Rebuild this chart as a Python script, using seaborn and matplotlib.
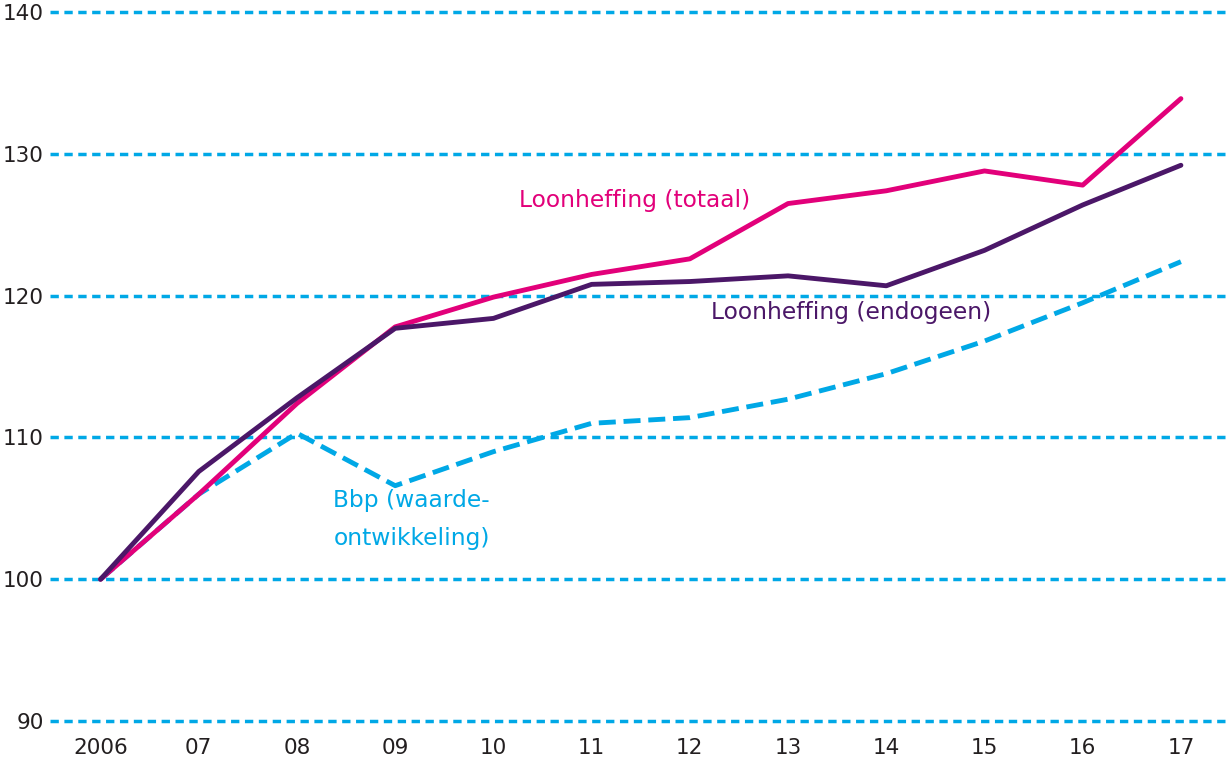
import matplotlib
matplotlib.use("Agg")
import matplotlib.pyplot as plt
import seaborn
import pandas

years = list(range(2006, 2018))
year_labels = ["2006", "07", "08", "09", "10", "11", "12", "13", "14", "15", "16", "17"]
totaal = [100, 106.0, 112.4, 117.8, 119.9, 121.5, 122.6, 126.5, 127.4, 128.8, 127.8, 133.9]
endogeen = [100, 107.6, 112.8, 117.7, 118.4, 120.8, 121.0, 121.4, 120.7, 123.2, 126.4, 129.2]
bbp = [100, 106.0, 110.3, 106.6, 109.0, 111.0, 111.4, 112.7, 114.5, 116.8, 119.5, 122.4]

PINK = "#E2007A"
PURPLE = "#4B1768"
CYAN = "#00A8E6"

seaborn.set_style("white")
plt.rcParams["font.family"] = ["DejaVu Sans"]

df = pandas.DataFrame({"jaar": years, "totaal": totaal, "endogeen": endogeen, "bbp": bbp})

fig = plt.figure(figsize=(12.31, 7.59), dpi=100)
ax = fig.add_axes([0.041, 0.05, 0.959, 0.934])

for y in range(90, 141, 10):
    ax.axhline(y, color=CYAN, lw=2.5, ls=(0, (2.4, 1.6)), zorder=0, clip_on=False)

seaborn.lineplot(data=df, x="jaar", y="bbp", ax=ax, color=CYAN, lw=3.5, linestyle=(0, (3.5, 1.6)))
seaborn.lineplot(data=df, x="jaar", y="totaal", ax=ax, color=PINK, lw=3.5)
seaborn.lineplot(data=df, x="jaar", y="endogeen", ax=ax, color=PURPLE, lw=3.5)

ax.set_xlim(2005.49, 2017.51)
ax.set_ylim(90, 140)
ax.set_xticks(years)
ax.set_xticklabels(year_labels)
ax.set_yticks(range(90, 141, 10))
ax.set_xlabel("")
ax.set_ylabel("")
ax.tick_params(axis="both", length=0, labelsize=15.5, colors="#231F20")
ax.tick_params(axis="x", pad=12)
ax.tick_params(axis="y", pad=5)
for s in ax.spines.values():
    s.set_visible(False)

ax.text(2010.26, 126.7, "Loonheffing (totaal)", color=PINK, fontsize=16.8, va="center")
ax.text(2012.22, 118.8, "Loonheffing (endogeen)", color=PURPLE, fontsize=16.8, va="center")
ax.text(2008.37, 104.2, "Bbp (waarde-\nontwikkeling)", color=CYAN, fontsize=16.8, va="center",
        linespacing=1.85)

fig.savefig("out.png", dpi=100)
